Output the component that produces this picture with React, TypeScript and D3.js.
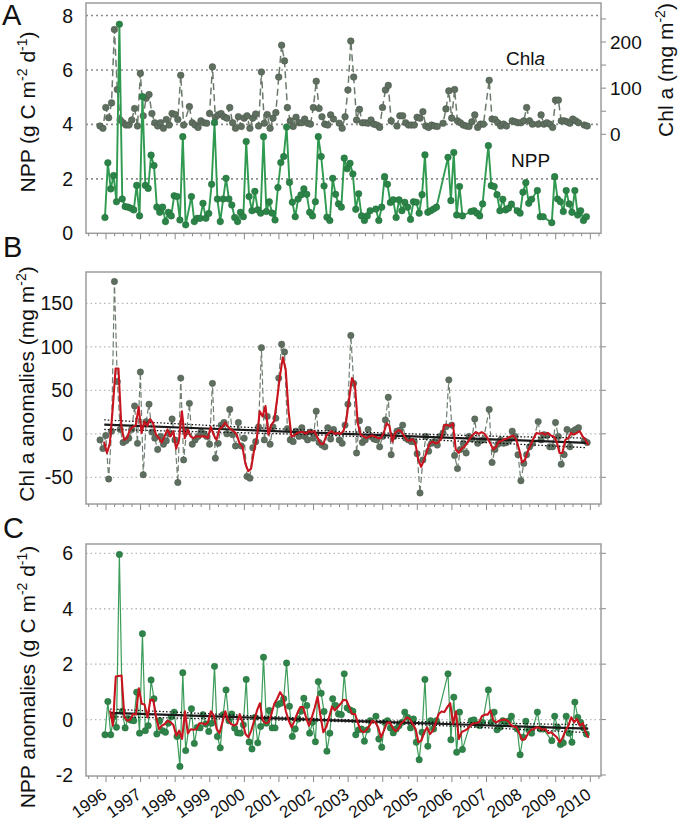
import React from 'react';
import * as d3 from 'd3';

const W = 680;
const H = 824;

// ---------- data ----------
const YEARS = d3.range(1996, 2011);

// Panel A – NPP (g C m-2 d-1), monthly, first observation
const NPP_START = 1995.97;
const NPP: (number | null)[] = [
  0.58, 2.59, 1.63, 2.12, 1.16, 7.68, 1.26, 0.98, 0.96, 0.92, 0.86, 1.76, 0.64, 5.02, 1.76, 1.65, 2.87, 2.49, 0.96, 0.77,
  0.96, 0.43, 0.77, 0.64, 1.38, 1.35, 0.49, 3.55, 0.31, null,
  1.35, 0.43, 0.55, 0.55, 1.1, 0.55, 0.73, 1.8, 4.07, 1.26, 0.43, 1.26, 2.02, 1.26, 1.04, 0.58, 0.43, 0.77, 0.61, 3.37,
  1.35, 0.83, 1.54, 0.86, 0.74, 3.55, 0.8, 1.16, 0.74, 0.49, 1.68, 2.6, 2.82, 3.9, 1.87, 1.14, 0.61, 1.26, 1.41, 1.63,
  1.43, 0.77, 0.64, 1.16, 3.55, 2.82, 1.74, 0.59, 0.47, 2.02, 1.43, 1.08, 0.96, 2.76,
  2.37, 2.57, 2.18, 0.88, 1.45, 0.64, 0.47, 0.64, 0.83, null, 0.89, 0.47, 0.96, 2.08, 1.8, 1.13, 1.23, 0.58, 1.23, 0.83,
  1.14, 0.96, 0.51, 1.16, 1.14, 0.74, 1.42, 2.88, 0.77, 0.83, 0.89, 0.96, null, null, null, 2.79, 1.2, 2.97, 0.67, 1.72,
  0.64, null, null, 0.8, 0.83, 0.74, 0.64, 1.08, null, 3.22, 1.75, 1.72, 1.42, 0.83, 1.25, 0.86, 0.92, 1.07, null, 0.83,
  0.74, 1.51, 1.86, 1.1, 1.25, null, 1.57, 0.61, 0.61, null, null, 0.39, 2.08, 1.26, 1.16, 0.8, 1.57, 1.08, 0.77, 1.57,
  0.67, 0.83, 0.47, 0.61,
];

// Panel A – Chl a (mg m-2), monthly
const CHL_START = 1995.827;
const CHL: (number | null)[] = [
  18, 13, 58, 36, 68, 227, 97, 31, 25, 20, 20, 31, 56, 18, 132, 40, 78, 86, 45, 25,
  18, 25, 13, 32, 20, 45, 43, 32, 128, 20, null,
  60, 25, 20, 15, 29, 25, 24, 45, 146, 37, 42, 45, 38, 35, 58, 25, 13, 38, 17, 35,
  40, 13, 35, 44, 18, 135, 24, 43, 13, 35, 47, 124, 193, 159, 58, 29, 17, 37, 25, 25,
  33, 24, 22, 58, 115, 56, 38, 22, 20, 42, 33, null, 24, 13, 38,
  96, 202, 124, 31, 54, 25, 25, 24, 31, 22, 20, 15, 58, 96, 106, 29, null, 18, 40, 40,
  25, 20, 20, 20, 37, 35, 49, 18, 15, 20, 18, 17, null, 24, 55, 94, 35, 97, 29, 25,
  20, 18, 17, 27, 42, 15, 22, 22, null, 117, 33, 32, 25, 18, 22, 18, null, 29, 27, 25,
  25, 29, 58, 29, 22, null, 22, 42, 22, 25, 22, 15, 74, 74, 29, 29, 27, 24, 33, 29,
  25, null, 20, 18,
];

// Panel B – Chl a anomalies (mg m-2), same months as CHL
const CHL_ANOM: (number | null)[] = [
  -7, -17, -2, -52, 3, 175, 60, 5, -10, -8, -5, 5, 32, -11, 71, -47, 14, 34, 2, -5,
  -18, -3, -12, -8, 0, 17, -7, -56, 64, -30, 2, 35, -12, -7, -3, 2, 0, -3, -12, 58,
  -28, -11, 10, 13, 0, 28, -1, -14, 13, -14, -5, -49, -51, -16, -9, 8, 99, -7, 20, -12,
  8, 18, 64, 103, 94, 6, -7, -9, 3, -3, 7, -3, -7, 2, -5, 26, -10, -13, -15, 7,
  -6, 5, null, -7, -11, 10, 34, 113, 58, -22, 15, -10, -7, 5, -3, -6, -7, -15, -3, 16,
  42, -24, -3, 3, 4, 10, -5, -7, -9, -9, -23, -68, -30, -3, -20, -11, -9, -13, -3, 1,
  8, 62, 10, -25, -40, -18, -11, -22, -3, -6, 17, -11, -8, -7, null, 28, -33, -18, -12, -7,
  -11, -10, -7, 3, -3, -24, -54, -34, -24, -15, -11, null, 14, -7, -1, -2, -15, -15, 13, -3,
  -35, -24, 5, -15, 3, 5, 7, null, -8, -10,
];

// Panel B – smoothed Chl a anomalies (red)
const CHL_SMOOTH_START = 1995.944;
const CHL_ANOM_SMOOTH: number[] = [
  -9, -22, -11, 29, 75, 75, 8, -7, -5, 5, 8, 10, 31, 1, 14, 9, 17, 12, -1, -5,
  -10, -3, 5, -3, 3, -17, -7, 26, -5, 5, -3, -5, -3, -3, -3, -3, -5, 8, -1, -7,
  5, 8, 13, 8, 5, 3, -1, -11, -15, -34, -43, -40, -20, -5, 26, 20, 32, -1, 10, 15,
  39, 66, 88, 74, 26, -3, -2, 1, 2, 2, 0, 3, 2, 3, -4, -11, -12, -3, 1, 3,
  0, 1, 0, 3, 15, 40, 64, 57, 12, -1, -3, -5, -3, -2, -3, -5, -5, 1, 12, 9,
  -9, 1, 4, 3, -2, -7, -8, -6, -11, -30, -38, -30, -20, -11, -9, -11, -10, -5, 10, 10,
  9, 12, -18, -22, -17, -15, -10, -5, -1, 2, 0, 2, 0, -5, -11, -18, -15, -9, -8, -6,
  -5, -3, -2, -7, -18, -33, -30, -20, -13, -5, 1, 0, 1, -1, 1, -2, -3, -9, -22, -22,
  -7, -5, 1, -1, 1, 3, -3, -7, -13,
];

// Panel C – NPP anomalies (g C m-2 d-1), same months as NPP
const NPP_ANOM: (number | null)[] = [
  -0.55, 0.65, -0.55, 0.1, -0.28, 5.96, 0.3, -0.3, 0.04, -0.02, -0.04, 0.99, -0.49, 3.1, -0.4, -0.22, 1.43, 0.75, -0.52, -0.04,
  -0.4, -0.46, -0.13, 0.1, 0.27, -0.61, -1.69, 1.69, -1.12, null,
  0.39, -0.86, -0.28, -0.3, 0.18, -0.16, -0.43, -0.13, 1.92, -0.61, -1.02, 0.18, 1.07, -0.04, 0.2, -0.31, -0.48, -0.49, -0.19, 1.45,
  -0.81, -1.06, 0.08, -0.84, -0.25, 2.25, -0.13, 0.33, -0.3, -0.3, 0.54, 0.59, 0.75, 2.04, 0.48, -0.61, -0.34, 0.02, 0.3, 0.77,
  0.51, -0.49, -0.1, -0.8, 1.37, 0.95, 0.29, -1.14, -0.49, 0.75, 0.51, 0.2, 0.18, 1.65,
  0.42, 0.35, 0.3, -0.55, -0.37, -0.34, -0.78, -0.37, -0.04, null, 0.12, -0.7, -1.0, -0.1, -0.04, -0.3, -0.48, -0.34, -0.22, -0.1,
  0.27, 0.08, -0.3, 0.02, -0.82, -1.45, -0.46, 1.45, -0.96, -0.04, -0.34, -0.04, null, null, null, 1.65, -0.73, 0.81, -1.18, 0.27,
  -1.08, null, null, -0.04, -0.01, -0.16, -0.22, -0.1, null, 1.07, -0.1, 0.27, -0.37, -0.28, -0.04, -0.1, -0.05, 0.12, null, -0.34,
  -1.27, -0.64, -0.06, -0.37, -0.49, null, 0.27, -0.34, -0.34, null, null, -0.76, 0.12, -0.28, -0.9, -0.84, 0.12, -0.49, -0.82, 0.63,
  0.08, -0.1, -0.3, -0.52,
];

// Panel C – smoothed NPP anomalies (red)
const NPP_SMOOTH_START = 1996.116;
const NPP_ANOM_SMOOTH: number[] = [
  0.33, -0.22, 1.55, 1.57, 1.59, 0.08, -0.04, 0, 0.2, 0.18, 1.13, 0.57, 0.54, 0.08, 0.71, 0.71, 0.08, -0.34, -0.22, -0.16,
  -0.04, -0.1, -0.2, -0.58, -0.4, -0.7, 0.3, -0.5, -0.35, -0.37, -0.34, -0.13, -0.13, -0.18, -0.1, 0.3, 0.14, -0.34, -0.49, -0.1,
  0.3, -0.04, -0.16, -0.22, -0.16, 0.2, -0.1, -0.52, -0.64, -0.4, -0.04, 0.33, 0.59, -0.04, -0.13, -0.1, 0.2, 0.57, 0.75, 0.99,
  0.83, 0.3, -0.04, -0.28, -0.04, 0.23, 0.45, 0.45, 0.08, -0.22, 0.08, 0.42, 0.83, 0.14, -0.46, -0.28, 0.08, 0.47, 0.33, 0.45,
  0.57, 0.71, 0.7, 0.45, 0.2, 0.2, -0.13, -0.4, -0.46, -0.37, -0.22, -0.04, -0.1, -0.28, -0.64, -0.4, -0.13, -0.1, -0.28, -0.42,
  -0.34, -0.13, -0.04, 0.08, 0.02, -0.16, -0.34, -0.82, -0.76, -0.46, -0.28, -0.52, -0.4, -0.1, 0.2, 0.29, 0.27, 0.45, 0.59, -0.15,
  0.3, -0.7, -0.45, -0.4, -0.34, -0.22, -0.13, -0.13, -0.1, 0.12, 0.18, 0.18, 0.33, -0.04, -0.1, -0.04, -0.01, 0, -0.04, -0.18,
  -0.25, -0.28, -0.5, -0.74, -0.7, -0.5, -0.37, -0.34, -0.28, -0.3, -0.37, -0.34, -0.49, -0.46, -0.55, -0.64, -0.82, -0.66, -0.4, -0.22,
  0.08, -0.1, 0.02, -0.22, -0.13, -0.46, -0.66,
];

// Linear trends with confidence bands
const TREND_B_YEARS = [1995.95, 1999.44, 2002.93, 2006.41, 2009.9];
const TREND_B = [10.5, 5.25, 0, -5.25, -10.5];
const TREND_B_UP = [16, 8.7, 2.5, -1.9, -5];
const TREND_B_LO = [5, 1.7, -2.5, -8.9, -16];
const TREND_C_YEARS = [1996.12, 1999.575, 2003.03, 2006.485, 2009.94];
const TREND_C = [0.24, 0.0975, -0.045, -0.1875, -0.33];
const TREND_C_UP = [0.38, 0.175, -0.005, -0.11, -0.19];
const TREND_C_LO = [0.1, 0.02, -0.085, -0.265, -0.47];

const A_TICKS = [0, 2, 4, 6, 8];
const A_GRID = [2, 4, 6, 8];
const CHL_TICKS = [0, 100, 200];
const CHL_MINOR = [0, 50, 100, 150, 200, 250];
const B_TICKS = [-50, 0, 50, 100, 150];
const C_TICKS = [-2, 0, 2, 4, 6];
const C_GRID = [0, 2, 4, 6];

// ---------- layout ----------
const FX0 = 86;
const FX1 = 601;
const x = d3.scaleLinear().domain([1996, 2010]).range([106, 590.3]);
const yA = d3.scaleLinear().domain([0, 8]).range([233.3, 15.5]);
const yChl = d3.scaleLinear().domain([0, 200]).range([134.3, 42]);
const yB = d3.scaleLinear().domain([-50, 150]).range([477.3, 303.3]);
const yC = d3.scaleLinear().domain([-2, 6]).range([775, 553.3]);
const PA = { y0: 3, y1: 233.3 };
const PB = { y0: 272, y1: 504 };
const PC = { y0: 544, y1: 776 };

const FONT = "'Liberation Sans', Arial, Helvetica, sans-serif";

type Pt = { t: number; v: number };
const monthly = (start: number, vals: (number | null)[]): Pt[] =>
  vals
    .map((v, k) => ({ t: start + k / 12, v }))
    .filter((p): p is Pt => p.v !== null && p.v !== undefined);
const paired = (ts: number[], vs: number[]): Pt[] => ts.map((t, k) => ({ t, v: vs[k] }));

const lineFor = (ys: d3.ScaleLinear<number, number>, curve: d3.CurveFactory = d3.curveLinear) =>
  d3
    .line<Pt>()
    .x((p) => x(p.t))
    .y((p) => ys(p.v))
    .curve(curve);

const nppPts = monthly(NPP_START, NPP);
const chlPts = monthly(CHL_START, CHL);
const chlAnomPts = monthly(CHL_START, CHL_ANOM);
const chlSmoothPts = monthly(CHL_SMOOTH_START, CHL_ANOM_SMOOTH);
const nppAnomPts = monthly(NPP_START, NPP_ANOM);
const nppSmoothPts = monthly(NPP_SMOOTH_START, NPP_ANOM_SMOOTH);

const minorTicks = d3.range(1995.5, 2010.3, 0.25);

function XTicks({ y }: { y: number }) {
  return (
    <g stroke="#8a8a8a" strokeWidth={1}>
      {minorTicks.map((t) => {
        const major = Math.abs(t - Math.round(t)) < 1e-6;
        return <line key={t} x1={x(t)} x2={x(t)} y1={y} y2={y + (major ? 6 : 3)} />;
      })}
    </g>
  );
}

function Frame({ y0, y1 }: { y0: number; y1: number }) {
  return <rect x={FX0} y={y0} width={FX1 - FX0} height={y1 - y0} fill="none" stroke="#9c9c9c" strokeWidth={1.5} />;
}

function Grid({ vals, ys, color, dash, width }: { vals: number[]; ys: d3.ScaleLinear<number, number>; color: string; dash: string; width: number }) {
  return (
    <g stroke={color} strokeWidth={width} strokeDasharray={dash}>
      {vals.map((v) => (
        <line key={v} x1={FX0} x2={FX1} y1={ys(v)} y2={ys(v)} />
      ))}
    </g>
  );
}

function RightTicks({ vals, ys }: { vals: number[]; ys: d3.ScaleLinear<number, number> }) {
  return (
    <g stroke="#8a8a8a" strokeWidth={1}>
      {vals.map((v) => (
        <line key={v} x1={FX1} x2={FX1 + 5} y1={ys(v)} y2={ys(v)} />
      ))}
    </g>
  );
}

function LeftLabels({ vals, ys }: { vals: number[]; ys: d3.ScaleLinear<number, number> }) {
  return (
    <g fontFamily={FONT} fontSize={19.5} fill="#111" textAnchor="end">
      {vals.map((v) => (
        <text key={v} x={73} y={ys(v) + 7}>
          {v}
        </text>
      ))}
    </g>
  );
}

function Trend({ ts, mid, up, lo, ys }: { ts: number[]; mid: number[]; up: number[]; lo: number[]; ys: d3.ScaleLinear<number, number> }) {
  const lin = lineFor(ys);
  const cur = lineFor(ys, d3.curveNatural);
  return (
    <g fill="none">
      <path d={cur(paired(ts, up)) || ''} stroke="#111" strokeWidth={1.3} strokeDasharray="1.5,2" />
      <path d={cur(paired(ts, lo)) || ''} stroke="#111" strokeWidth={1.3} strokeDasharray="1.5,2" />
      <path d={lin(paired(ts, mid)) || ''} stroke="#1a1a1a" strokeWidth={2.2} />
    </g>
  );
}

export default function App() {
  const lineA = lineFor(yA);
  const lineChl = lineFor(yChl);
  const lineB = lineFor(yB);
  const lineC = lineFor(yC);

  return (
    <svg
      width={W}
      height={H}
      viewBox={`0 0 ${W} ${H}`}
      style={{ display: 'block', position: 'absolute', left: 0, top: 0, background: '#fff' }}
    >
      <rect x={0} y={0} width={W} height={H} fill="#fff" />

      {/* ---------------- Panel A ---------------- */}
      <Grid vals={A_GRID} ys={yA} color="#8c8c8c" dash="2,3" width={1.6} />
      <Frame y0={PA.y0} y1={PA.y1} />
      <XTicks y={PA.y1} />
      <RightTicks vals={CHL_MINOR} ys={yChl} />
      <LeftLabels vals={A_TICKS} ys={yA} />
      <g fontFamily={FONT} fontSize={19} fill="#111">
        {CHL_TICKS.map((v) => (
          <text key={v} x={610} y={yChl(v) + 7}>
            {v}
          </text>
        ))}
      </g>
      <path d={lineChl(chlPts) || ''} fill="none" stroke="#6c7a6c" strokeWidth={1.5} strokeDasharray="7,4" />
      <g fill="#5e6e5f" stroke="#4d5b4e" strokeWidth={0.6}>
        {chlPts.map((p, k) => (
          <circle key={k} cx={x(p.t)} cy={yChl(p.v)} r={3.3} />
        ))}
      </g>
      <path d={lineA(nppPts) || ''} fill="none" stroke="#2f9a50" strokeWidth={1.9} />
      <g fill="#2b8447" stroke="#226b39" strokeWidth={0.5}>
        {nppPts.map((p, k) => (
          <circle key={k} cx={x(p.t)} cy={yA(p.v)} r={3.3} />
        ))}
      </g>
      <text x={506} y={65} fontFamily={FONT} fontSize={19} fill="#111">
        Chl<tspan fontStyle="italic">a</tspan>
      </text>
      <text x={511} y={167} fontFamily={FONT} fontSize={19} fill="#111">
        NPP
      </text>

      {/* ---------------- Panel B ---------------- */}
      <Grid vals={B_TICKS} ys={yB} color="#b8b8b8" dash="1.5,3" width={1.3} />
      <Frame y0={PB.y0} y1={PB.y1} />
      <XTicks y={PB.y1} />
      <RightTicks vals={B_TICKS} ys={yB} />
      <LeftLabels vals={B_TICKS} ys={yB} />
      <path d={lineB(chlAnomPts) || ''} fill="none" stroke="#6f7e70" strokeWidth={1.2} strokeDasharray="6,3" />
      <g fill="#5e6e5f" stroke="#4d5b4e" strokeWidth={0.5}>
        {chlAnomPts.map((p, k) => (
          <circle key={k} cx={x(p.t)} cy={yB(p.v)} r={3.2} />
        ))}
      </g>
      <Trend ts={TREND_B_YEARS} mid={TREND_B} up={TREND_B_UP} lo={TREND_B_LO} ys={yB} />
      <path d={lineB(chlSmoothPts) || ''} fill="none" stroke="#c8141e" strokeWidth={2.1} strokeLinejoin="round" />

      {/* ---------------- Panel C ---------------- */}
      <Grid vals={C_GRID} ys={yC} color="#b8b8b8" dash="1.5,3" width={1.3} />
      <Frame y0={PC.y0} y1={PC.y1} />
      <XTicks y={PC.y1} />
      <RightTicks vals={C_TICKS} ys={yC} />
      <LeftLabels vals={C_TICKS} ys={yC} />
      <path d={lineC(nppAnomPts) || ''} fill="none" stroke="#3a9c58" strokeWidth={1.2} />
      <g fill="#2e8449" stroke="#246c3a" strokeWidth={0.5}>
        {nppAnomPts.map((p, k) => (
          <circle key={k} cx={x(p.t)} cy={yC(p.v)} r={3.2} />
        ))}
      </g>
      <Trend ts={TREND_C_YEARS} mid={TREND_C} up={TREND_C_UP} lo={TREND_C_LO} ys={yC} />
      <path d={lineC(nppSmoothPts) || ''} fill="none" stroke="#c8141e" strokeWidth={2.1} strokeLinejoin="round" />

      {/* year labels */}
      <g fontFamily={FONT} fontSize={17} fill="#111" textAnchor="end">
        {YEARS.map((yr) => (
          <text key={yr} transform={`translate(${x(yr) + 2},${797}) rotate(-35)`}>
            {yr}
          </text>
        ))}
      </g>

      {/* axis titles */}
      <g fontFamily={FONT} fontSize={21} fill="#111" textAnchor="middle" style={{ whiteSpace: 'pre' }}>
        <text transform="translate(35,112) rotate(-90)">
          NPP (g C m<tspan dy={-8} fontSize={14}>-2</tspan>
          <tspan dy={8}> d</tspan>
          <tspan dy={-8} fontSize={14}>-1</tspan>
          <tspan dy={8}>)</tspan>
        </text>
        <text transform="translate(673,70) rotate(-90)">
          Chl a (mg m<tspan dy={-8} fontSize={14}>-2</tspan>
          <tspan dy={8}>)</tspan>
        </text>
        <text transform="translate(34,384) rotate(-90)">
          {'Chl a anomalies  (mg m'}
          <tspan dy={-8} fontSize={14}>-2</tspan>
          <tspan dy={8}>)</tspan>
        </text>
        <text transform="translate(35,677) rotate(-90)">
          {'NPP anomalies  (g C m'}
          <tspan dy={-8} fontSize={14}>-2</tspan>
          <tspan dy={8}> d</tspan>
          <tspan dy={-8} fontSize={14}>-1</tspan>
          <tspan dy={8}>)</tspan>
        </text>
      </g>

      {/* panel letters */}
      <g fontFamily={FONT} fontSize={29} fill="#111">
        <text x={2} y={25}>A</text>
        <text x={3} y={257}>B</text>
        <text x={3} y={538}>C</text>
      </g>
    </svg>
  );
}
